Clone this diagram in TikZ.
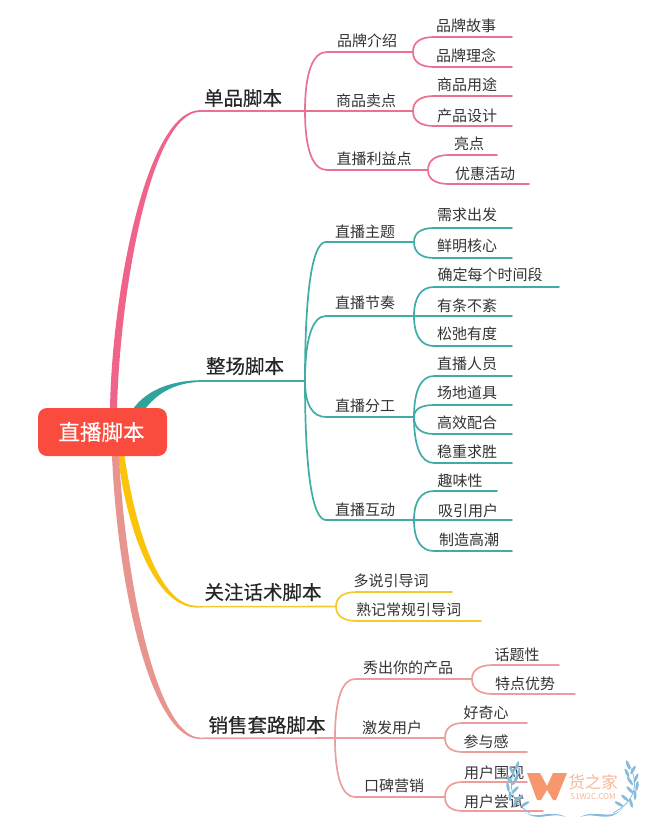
\documentclass[tikz,border=0pt]{standalone}
\usepackage{fontspec}
\setmainfont{Noto Sans CJK SC}
\newfontfamily\cjkm[FakeBold=0.35]{Noto Sans CJK SC}
\newfontfamily\cjkw[FakeBold=0.2]{Noto Sans CJK SC}
\usetikzlibrary{backgrounds,calc}
\definecolor{pinkL}{HTML}{E8728F}
\definecolor{pinkT}{HTML}{F0648A}
\definecolor{tealL}{HTML}{3FADA6}
\definecolor{tealT}{HTML}{2FA49C}
\definecolor{yelL}{HTML}{F6C92C}
\definecolor{yelT}{HTML}{FBC30A}
\definecolor{salL}{HTML}{EC9E9A}
\definecolor{salT}{HTML}{E8958F}
\definecolor{rootc}{HTML}{F94C3E}
\definecolor{ink}{HTML}{333333}
\definecolor{wmw}{HTML}{F58E62}
\definecolor{wmt}{HTML}{F6B79C}
\definecolor{wmb}{HTML}{86BBDC}
\tikzset{
  lbl/.style={inner sep=0pt,yshift=-1pt,font=\fontsize{15}{15}\selectfont,text=ink},
  mainlbl/.style={inner sep=0pt,font=\cjkm\fontsize{19.5}{19.5}\selectfont,text=black!85},
  conn/.style={line width=1.7pt,line cap=round},
  rootbox/.style={fill=rootc,rounded corners=9pt,text=white,minimum width=129pt,minimum height=48pt,inner sep=0pt,font=\cjkw\fontsize{21.5}{21.5}\selectfont},
  leafm/.style={fill=wmb}
}
% name, colour, parent, line start x, line y, line end x, text x, text y, text
\newcommand\twig[9]{%
  \coordinate (#1-s) at (#4,#5);
  \coordinate (#1-e) at (#6,#5);
  \node[lbl] (#1) at (#7,#8) {#9};
  \begin{scope}[on background layer]
  \draw[conn,#2] (#3) .. controls ($(#3)!.65!(#3 |- #1-s)$) and ($(#1-s)!.65!(#3 |- #1-s)$) .. (#1-s) -- (#1-e);
  \end{scope}}
\newcommand\lf[3]{\fill[leafm,rotate around={#3:(#1,#2)}] (#1,#2) ellipse (5pt and 1.5pt);}
\begin{document}
\begin{tikzpicture}[x=1pt,y=-1pt]
\useasboundingbox (0,0) rectangle (650,833);
\node[rootbox] (root) at (102.5,432) {\kern-2pt直播脚本};
% main labels
\node[mainlbl] (m1) at (243,98) {单品脚本};
\node[mainlbl] (m2) at (245,366) {整场脚本};
\node[mainlbl] (m3) at (263,592) {关注话术脚本};
\node[mainlbl] (m4) at (267,725) {销售套路脚本};
\coordinate (m1-e) at (305,111);
\coordinate (m2-e) at (305,381);
\coordinate (m3-e) at (336,606.5);
\coordinate (m4-e) at (335,738);
\begin{scope}[on background layer]
% tapered main branches
\fill[yelT] (118,456) .. controls (127,533) and (156,607.6) .. (197,607.5) -- (197,605.8) .. controls (159,605.8) and (135,527) .. (124.5,456) -- cycle;
\fill[salT] (112,456) .. controls (118,592) and (152,739.3) .. (200,739) -- (200,737.5) .. controls (158,737.2) and (126,588) .. (119,456) -- cycle;
\fill[pinkT] (110,409) .. controls (112,290) and (147,110.3) .. (200,110.2) -- (200,111.8) .. controls (151,112.8) and (120,290) .. (117,409) -- cycle;
\fill[tealT] (133,409) .. controls (148,388) and (175,380.6) .. (200,380.2) -- (200,381.8) .. controls (178,383) and (160,390) .. (145,409) -- cycle;
\draw[conn,pinkL,line width=1.6pt] (199,111) -- (m1-e);
\draw[conn,tealL,line width=1.6pt] (199,381) -- (m2-e);
\draw[conn,yelL,line width=1.6pt] (196,606.7) -- (m3-e);
\draw[conn,salL,line width=1.6pt] (199,738.3) -- (m4-e);
\end{scope}
% pink
\twig{a1}{pinkL}{m1-e}{327}{52}{413}{367}{40}{品牌介绍}
\twig{a2}{pinkL}{m1-e}{327}{111}{413}{366}{100}{商品卖点}
\twig{a3}{pinkL}{m1-e}{327}{170}{428}{374}{158}{直播利益点}
\twig{a11}{pinkL}{a1-e}{434}{37}{512}{466}{25}{品牌故事}
\twig{a12}{pinkL}{a1-e}{434}{67}{512}{466}{55}{品牌理念}
\twig{a21}{pinkL}{a2-e}{434}{96}{512}{467}{84}{商品用途}
\twig{a22}{pinkL}{a2-e}{434}{126}{512}{467}{115}{产品设计}
\twig{a31}{pinkL}{a3-e}{449}{155}{497}{469}{143}{亮点}
\twig{a32}{pinkL}{a3-e}{449}{184}{529}{485}{173}{优惠活动}
% teal
\twig{b1}{tealL}{m2-e}{326}{242}{414}{365}{231}{直播主题}
\twig{b2}{tealL}{m2-e}{326}{316}{414}{365}{302}{直播节奏}
\twig{b3}{tealL}{m2-e}{326}{417}{414}{365}{405}{直播分工}
\twig{b4}{tealL}{m2-e}{326}{520}{414}{365}{509}{直播互动}
\twig{b11}{tealL}{b1-e}{434}{228}{512}{467}{214}{需求出发}
\twig{b12}{tealL}{b1-e}{434}{258}{512}{467}{245}{鲜明核心}
\twig{b21}{tealL}{b2-e}{434}{287}{559}{490}{274}{确定每个时间段}
\twig{b22}{tealL}{b2-e}{434}{316}{512}{467}{305}{有条不紊}
\twig{b23}{tealL}{b2-e}{434}{346}{512}{467}{333}{松弛有度}
\twig{b31}{tealL}{b3-e}{434}{376}{512}{467}{363}{直播人员}
\twig{b32}{tealL}{b3-e}{434}{405}{512}{467}{392}{场地道具}
\twig{b33}{tealL}{b3-e}{434}{434}{512}{467}{422}{高效配合}
\twig{b34}{tealL}{b3-e}{434}{463}{512}{467}{451}{稳重求胜}
\twig{b41}{tealL}{b4-e}{434}{491}{497}{460}{480}{趣味性}
\twig{b42}{tealL}{b4-e}{434}{520}{512}{468}{510}{吸引用户}
\twig{b43}{tealL}{b4-e}{434}{551}{512}{469}{539}{制造高潮}
% yellow
\twig{c1}{yelL}{m3-e}{357}{592}{452}{391}{580}{多说引导词}
\twig{c2}{yelL}{m3-e}{357}{621}{481}{408.5}{609}{熟记常规引导词}
% salmon
\twig{d1}{salL}{m4-e}{355}{679}{472}{408}{667}{秀出你的产品}
\twig{d2}{salL}{m4-e}{355}{738}{445}{392}{727}{激发用户}
\twig{d3}{salL}{m4-e}{355}{797}{445}{394}{785}{口碑营销}
\twig{d11}{salL}{d1-e}{493}{665}{559}{517}{654}{话题性}
\twig{d12}{salL}{d1-e}{493}{694}{575}{525}{683}{特点优势}
\twig{d21}{salL}{d2-e}{463}{723}{527}{486}{712}{好奇心}
\twig{d22}{salL}{d2-e}{463}{752}{527}{486}{741}{参与感}
\twig{d31}{salL}{d3-e}{463}{782}{527}{494}{772}{用户围观}
\twig{d32}{salL}{d3-e}{463}{811}{543}{494}{801}{用户尝试}
% watermark
\fill[wmw,opacity=.92] (527,773) -- (540,773) -- (547,786) -- (553,773) -- (567,773) -- (556,800) -- (553,800) -- (547,790) -- (541,800) -- (537,800) -- cycle;
\node[inner sep=0pt,text=wmt,font=\fontsize{16.5}{16.5}\selectfont] (wt1) at (593,782) {货之家};
\node[inner sep=0pt,text=wmt,font=\fontsize{8}{8}\selectfont] (wt2) at (593,797) {S1W2C.COM};
\draw[wmb,line width=.8pt] (518,762) .. controls (505,785) and (512,803) .. (530,813);
\fill[wmb] (523,810.5) .. controls (535,822) and (548,808) .. (566,817) .. controls (548,811) and (538,824) .. (523,810.5) -- cycle;
\draw[wmb,line width=.8pt] (627,761) .. controls (642,785) and (633,803) .. (613,813);
\fill[wmb] (623,808) .. controls (610,822) and (597,808) .. (580,817) .. controls (597,811) and (608,825) .. (623,808) -- cycle;
\lf{517}{766}{-110}\lf{512}{771}{-60}\lf{518}{773}{-115}\lf{509}{779}{-65}\lf{515}{781}{-125}\lf{508}{787}{-80}\lf{515}{790}{-135}\lf{510}{796}{-90}\lf{519}{798}{-140}\lf{515}{803}{-105}\lf{525}{804}{-150}
\lf{628}{765}{-70}\lf{633}{770}{-120}\lf{627}{773}{-65}\lf{636}{778}{-115}\lf{630}{781}{-55}\lf{637}{786}{-100}\lf{630}{790}{-45}\lf{635}{795}{-90}\lf{625}{798}{-40}\lf{631}{803}{-75}\lf{619}{804}{-30}
\end{tikzpicture}
\end{document}
